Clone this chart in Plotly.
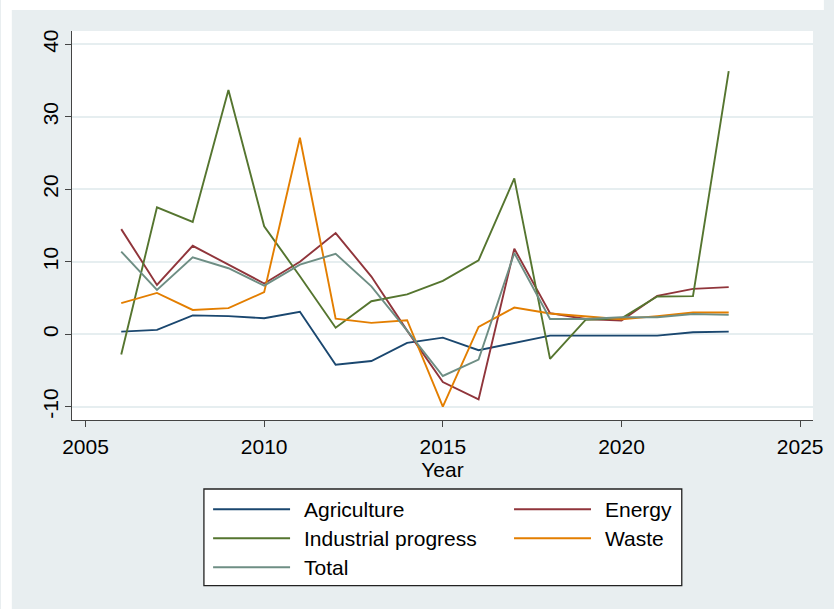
import plotly.graph_objects as go

years = list(range(2006, 2024))
agriculture = [0.36, 0.6, 2.6, 2.5, 2.2, 3.1, -4.2, -3.7, -1.2, -0.47, -2.2, -1.2, -0.2, -0.2, -0.2, -0.2, 0.27, 0.36]
energy = [14.5, 6.8, 12.2, 9.6, 7.0, 10.0, 13.95, 7.96, 0.5, -6.6, -9.0, 11.8, 2.9, 2.1, 1.9, 5.3, 6.25, 6.5]
industrial = [-2.8, 17.5, 15.5, 33.7, 14.9, 8.0, 0.9, 4.55, 5.5, 7.36, 10.2, 21.5, -3.4, 2.0, 2.2, 5.2, 5.25, 36.3]
waste = [4.3, 5.7, 3.35, 3.6, 5.8, 27.1, 2.15, 1.56, 1.93, -10.0, 1.0, 3.68, 2.85, 2.5, 2.07, 2.5, 3.0, 3.0]
total = [11.4, 6.1, 10.6, 9.1, 6.7, 9.6, 11.1, 6.6, 0.5, -5.76, -3.5, 11.2, 2.1, 2.1, 2.35, 2.35, 2.8, 2.67]

series_names = ["Agriculture", "Energy", "Industrial progress", "Waste", "Total"]
series_values = [agriculture, energy, industrial, waste, total]
series_colors = ["#1a476f", "#90353b", "#55752f", "#e37e00", "#6e8e84"]

x_ticks = [2005, 2010, 2015, 2020, 2025]
y_ticks = [-10, 0, 10, 20, 30, 40]
y_tick_labels = ["-10", "0", "10", "20", "30", "40"]

W, H = 834, 609
L, R, T, B = 72, 823, 31, 420
FONT = "Liberation Sans, Arial, sans-serif"
BG = "#e8eef0"
FS = 21

def px(x):
    return (x - L) / (R - L)

def py(y):
    return (B - y) / (B - T)

fig = go.Figure()
for name, vals, col in zip(series_names, series_values, series_colors):
    fig.add_trace(go.Scatter(x=years, y=vals, name=name, mode="lines",
                             line=dict(color=col, width=1.9), showlegend=False))

shapes = []
# white outer margins (top and left strips)
shapes.append(dict(type="rect", xref="paper", yref="paper", x0=px(0), x1=px(W), y0=py(10), y1=py(0),
                   fillcolor="white", line=dict(width=0), layer="below"))
shapes.append(dict(type="rect", xref="paper", yref="paper", x0=px(0), x1=px(11), y0=py(H), y1=py(0),
                   fillcolor="white", line=dict(width=0), layer="below"))

# legend box
lx0, lx1, ly0, ly1 = 205.7, 690, 489, 585.7
shapes.append(dict(type="rect", xref="paper", yref="paper", x0=px(lx0), x1=px(lx1), y0=py(ly1), y1=py(ly0),
                   fillcolor="white", line=dict(color="#222222", width=1.3)))
annotations = []
col_x = [215, 520]
row_y = [509.3, 538.3, 567.3]
for i, (name, col) in enumerate(zip(series_names, series_colors)):
    r, c = divmod(i, 2)
    x0 = col_x[c]
    yy = row_y[r]
    shapes.append(dict(type="line", xref="paper", yref="paper", x0=px(x0), x1=px(x0 + 78), y0=py(yy), y1=py(yy),
                       line=dict(color=col, width=2)))
    annotations.append(dict(xref="paper", yref="paper", x=px(x0 + 90), y=py(yy), text=name, showarrow=False,
                            xanchor="left", yanchor="middle", font=dict(family=FONT, size=FS, color="black")))

fig.update_layout(
    width=W, height=H,
    margin=dict(l=L, r=W - R, t=T, b=H - B, pad=0),
    paper_bgcolor=BG, plot_bgcolor="white",
    shapes=shapes, annotations=annotations,
    font=dict(family=FONT, size=FS, color="black"),
    xaxis=dict(range=[2004.622, 2025.359], tickvals=x_ticks, ticks="outside", ticklen=6, tickcolor="#444",
               tickwidth=1.3, showgrid=False, zeroline=False, showline=True, linecolor="#444", linewidth=1.3,
               tickfont=dict(family=FONT, size=FS, color="black"), ticklabelstandoff=2,
               title=dict(text="Year", font=dict(family=FONT, size=FS, color="black"), standoff=4)),
    yaxis=dict(range=[-11.835, 41.835], tickvals=y_ticks, ticktext=y_tick_labels, ticks="outside", ticklen=6,
               tickcolor="#444", tickwidth=1.3, showgrid=True, gridcolor="#e6eef0", gridwidth=1.5,
               zeroline=False, showline=True, linecolor="#444", linewidth=1.3, tickangle=-90,
               ticklabelstandoff=-2, tickfont=dict(family=FONT, size=FS, color="black")),
)

fig.write_html("out.html")
